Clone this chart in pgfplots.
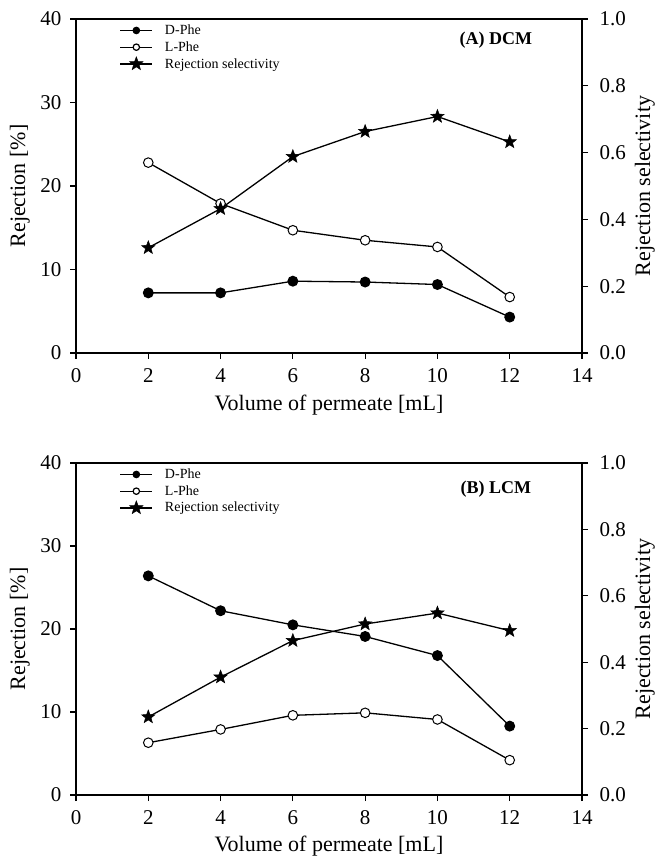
\documentclass[border=0pt]{standalone}
\usepackage{fontspec}
\setmainfont{Liberation Serif}
\usepackage{pgfplots}
\pgfplotsset{compat=1.18}
\pgfdeclareplotmark{fstar}{%
  \pgfpathmoveto{\pgfqpointpolar{90}{\pgfplotmarksize}}%
  \pgfpathlineto{\pgfqpointpolar{126}{0.42\pgfplotmarksize}}%
  \pgfpathlineto{\pgfqpointpolar{162}{\pgfplotmarksize}}%
  \pgfpathlineto{\pgfqpointpolar{198}{0.42\pgfplotmarksize}}%
  \pgfpathlineto{\pgfqpointpolar{234}{\pgfplotmarksize}}%
  \pgfpathlineto{\pgfqpointpolar{270}{0.42\pgfplotmarksize}}%
  \pgfpathlineto{\pgfqpointpolar{306}{\pgfplotmarksize}}%
  \pgfpathlineto{\pgfqpointpolar{342}{0.42\pgfplotmarksize}}%
  \pgfpathlineto{\pgfqpointpolar{18}{\pgfplotmarksize}}%
  \pgfpathlineto{\pgfqpointpolar{54}{0.42\pgfplotmarksize}}%
  \pgfpathclose
  \pgfusepathqfillstroke}
\pgfplotstableread{
x dphe lphe sel
2  7.2 22.8 0.315
4  7.2 17.9 0.432
6  8.6 14.7 0.588
8  8.5 13.5 0.663
10 8.2 12.7 0.708
12 4.3  6.7 0.632
}\dcm
\pgfplotstableread{
x dphe lphe sel
2  26.4 6.3 0.235
4  22.2 7.9 0.355
6  20.5 9.6 0.465
8  19.1 9.9 0.515
10 16.8 9.1 0.548
12  8.3 4.2 0.495
}\lcm
\pgfplotsset{
  common/.style={scale only axis, width=506pt, xmin=0, xmax=14,
    axis line style={line width=1.5pt}, tick style={line width=1.2pt, black},
    major tick length=6pt, tick align=outside,
    tick label style={font=\fontsize{21}{24}\selectfont},
    /pgf/number format/assume math mode=true,
    label style={font=\fontsize{22}{26}\selectfont}},
  leftax/.style={common, ymin=0, ymax=40, ytick={0,10,...,40}, xtick={0,2,...,14},
    xtick pos=bottom, ytick pos=left,
    xticklabel style={yshift=-6pt},
    yticklabel style={xshift=-5pt},
    xlabel={Volume of permeate [mL]}, ylabel={Rejection [\%]},
    ylabel style={at={(axis description cs:-0.111,0.5)}, anchor=center},
    xlabel style={at={(axis description cs:0.5,-0.155)}, anchor=center}},
  rightax/.style={common, ymin=0, ymax=1, ytick={0,0.2,...,1.01}, axis x line=none, axis y line*=right,
    yticklabel style={xshift=8pt, /pgf/number format/.cd, fixed, fixed zerofill, precision=1},
    ylabel={Rejection selectivity},
    ylabel style={at={(axis description cs:1.124,0.5)}, anchor=center},
    legend style={at={(axis description cs:0.08,0.995)}, anchor=north west, draw=none, fill=none,
      font=\fontsize{14}{15}\selectfont, row sep=1.5pt, column sep=10pt},
    legend cell align=left,
    legend image code/.code={\draw[mark repeat=2,mark phase=2,#1] plot coordinates {(0pt,0pt) (16pt,0pt) (32pt,0pt)};}},
  dstyle/.style={black, line width=1.3pt, mark=*, mark size=4.8pt},
  lstyle/.style={black, line width=1.3pt, mark=*, mark size=4.8pt, mark options={fill=white, line width=1pt}},
  sstyle/.style={black, line width=1.3pt, mark=fstar, mark size=7pt, mark options={fill=black, line width=0.5pt}},
}
\begin{document}
\begin{tikzpicture}
\path[use as bounding box] (0,0) rectangle (659pt,861pt);
% Top panel
\begin{axis}[leftax, height=334pt, at={(76pt,508pt)}, anchor=south west]
\addplot[dstyle] table[x=x,y=dphe]{\dcm};
\addplot[lstyle] table[x=x,y=lphe]{\dcm};
\node[font=\bfseries\fontsize{18}{20}\selectfont] at (axis description cs:0.83,0.937) {(A) DCM};
\end{axis}
\begin{axis}[rightax, height=334pt, at={(76pt,508pt)}, anchor=south west]
\addlegendimage{black, line width=1.2pt, mark=*, mark size=3.2pt}
\addlegendentry{D-Phe}
\addlegendimage{black, line width=1.2pt, mark=*, mark size=3.2pt, mark options={fill=white}}
\addlegendentry{L-Phe}
\addplot[sstyle] table[x=x,y=sel]{\dcm};
\addlegendentry{Rejection selectivity}
\end{axis}
% Bottom panel
\begin{axis}[leftax, height=332pt, at={(76pt,66pt)}, anchor=south west]
\addplot[dstyle] table[x=x,y=dphe]{\lcm};
\addplot[lstyle] table[x=x,y=lphe]{\lcm};
\node[font=\bfseries\fontsize{18}{20}\selectfont] at (axis description cs:0.83,0.92) {(B) LCM};
\end{axis}
\begin{axis}[rightax, height=332pt, at={(76pt,66pt)}, anchor=south west]
\addlegendimage{black, line width=1.2pt, mark=*, mark size=3.2pt}
\addlegendentry{D-Phe}
\addlegendimage{black, line width=1.2pt, mark=*, mark size=3.2pt, mark options={fill=white}}
\addlegendentry{L-Phe}
\addplot[sstyle] table[x=x,y=sel]{\lcm};
\addlegendentry{Rejection selectivity}
\end{axis}
\end{tikzpicture}
\end{document}
